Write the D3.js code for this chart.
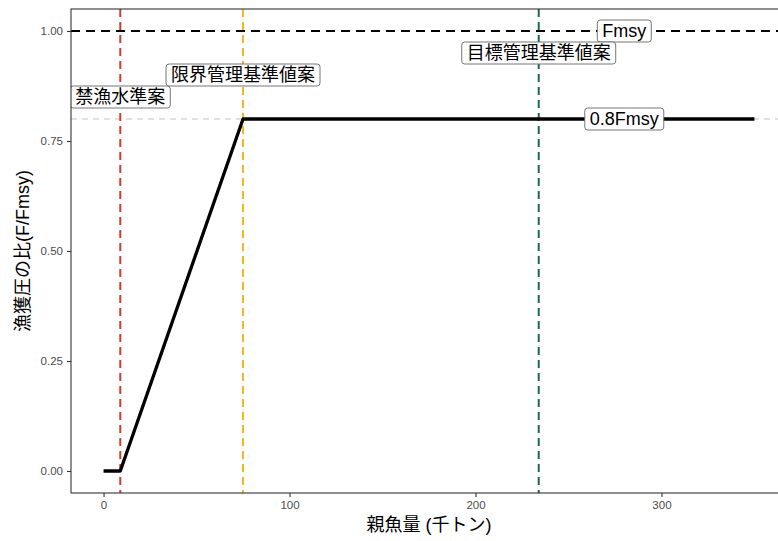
<!DOCTYPE html>
<html>
<head>
<meta charset="utf-8">
<script src="https://cdn.jsdelivr.net/npm/d3@7"></script>
<style>
  body { margin: 0; background: #fff; }
  text { font-family: "Liberation Sans", Arial, "Noto Sans CJK JP", sans-serif; }
</style>
</head>
<body>
<svg id="chart" width="778" height="541"></svg>
<script>
// ---- data ----
const hcrBiomass = [0, 9, 75, 350];
const hcrRatio = [0, 0, 0.8, 0.8];
const refNames = ["禁漁水準案", "限界管理基準値案", "目標管理基準値案"];
const refBiomass = [9, 75, 234];
const refColors = ["#d7392c", "#f2b81c", "#176b47"];
const refLabelY = [0.85, 0.90, 0.95];
const hLineValues = [1.0, 0.8];
const hLineLabels = ["Fmsy", "0.8Fmsy"];
const hLabelX = 280;
const xTicks = [0, 100, 200, 300];
const yTicks = [0, 0.25, 0.5, 0.75, 1.0];
const xTitle = "親魚量 (千トン)";
const yTitle = "漁獲圧の比(F/Fmsy)";

// ---- layout ----
const svg = d3.select("#chart");
const pL = 71, pR = 787, pT = 9, pB = 493;
const x = d3.scaleLinear().domain([-17.5, 367.5]).range([pL, pR]);
const y = d3.scaleLinear().domain([-0.05, 1.05]).range([pB, pT]);

svg.append("defs").append("clipPath").attr("id", "clip")
  .append("rect").attr("x", pL).attr("y", pT).attr("width", pR - pL).attr("height", pB - pT);
const panel = svg.append("g").attr("clip-path", "url(#clip)");

// 0.8 reference (gray dashed)
panel.append("line")
  .attr("x1", pL).attr("x2", pR)
  .attr("y1", y(hLineValues[1])).attr("y2", y(hLineValues[1]))
  .attr("stroke", "#c4c4c4").attr("stroke-width", 1.1).attr("stroke-dasharray", "6,5");

// Fmsy line
panel.append("line")
  .attr("x1", pL).attr("x2", pR)
  .attr("y1", y(hLineValues[0])).attr("y2", y(hLineValues[0]))
  .attr("stroke", "#000").attr("stroke-width", 2).attr("stroke-dasharray", "9,6");

// vertical reference lines
panel.selectAll("line.ref").data(refBiomass).join("line")
  .attr("class", "ref")
  .attr("x1", d => x(d)).attr("x2", d => x(d))
  .attr("y1", pT).attr("y2", pB)
  .attr("stroke", (d, i) => refColors[i]).attr("stroke-width", 2)
  .attr("stroke-dasharray", "8,5");

// HCR line
const hcr = hcrBiomass.map((b, i) => [b, hcrRatio[i]]);
panel.append("path")
  .datum(hcr)
  .attr("d", d3.line().x(d => x(d[0])).y(d => y(d[1])))
  .attr("fill", "none").attr("stroke", "#000").attr("stroke-width", 3.3)
  .attr("stroke-linejoin", "round");

// labels
function label(g, cx, cy, txt) {
  const grp = g.append("g");
  const t = grp.append("text").attr("x", cx).attr("y", cy)
    .attr("text-anchor", "middle").attr("dominant-baseline", "central")
    .attr("font-size", 18).attr("fill", "#000").text(txt);
  const w = t.node().getComputedTextLength();
  grp.insert("rect", "text")
    .attr("x", cx - w / 2 - 5).attr("y", cy - 11)
    .attr("width", w + 10).attr("height", 22)
    .attr("rx", 3).attr("ry", 3)
    .attr("fill", "#fff").attr("stroke", "#666").attr("stroke-width", 0.9);
}
hLineValues.forEach((v, i) => label(panel, x(hLabelX), y(v), hLineLabels[i]));
refBiomass.forEach((b, i) => label(panel, x(b), y(refLabelY[i]), refNames[i]));

// panel border
svg.append("rect").attr("x", pL).attr("y", pT)
  .attr("width", pR - pL).attr("height", pB - pT)
  .attr("fill", "none").attr("stroke", "#333").attr("stroke-width", 1.1);

// axes
const xAxis = svg.append("g").attr("transform", `translate(0,${pB})`)
  .call(d3.axisBottom(x).tickValues(xTicks).tickSize(4).tickPadding(4).tickFormat(d3.format("d")));
const yAxis = svg.append("g").attr("transform", `translate(${pL},0)`)
  .call(d3.axisLeft(y).tickValues(yTicks).tickSize(4).tickPadding(4).tickFormat(d3.format(".2f")));
[xAxis, yAxis].forEach(a => {
  a.select(".domain").remove();
  a.selectAll(".tick line").attr("stroke", "#333").attr("stroke-width", 1.1);
  a.selectAll(".tick text").attr("fill", "#4d4d4d").attr("font-size", 11.5)
    .style("font-family", '"Liberation Sans", Arial, sans-serif');
});

// titles
svg.append("text").attr("x", (pL + pR) / 2).attr("y", 531)
  .attr("text-anchor", "middle").attr("font-size", 18).attr("fill", "#000").text(xTitle);
svg.append("text").attr("transform", `translate(29,${(pT + pB) / 2}) rotate(-90)`)
  .attr("text-anchor", "middle").attr("font-size", 18).attr("fill", "#000").text(yTitle);
</script>
</body>
</html>
